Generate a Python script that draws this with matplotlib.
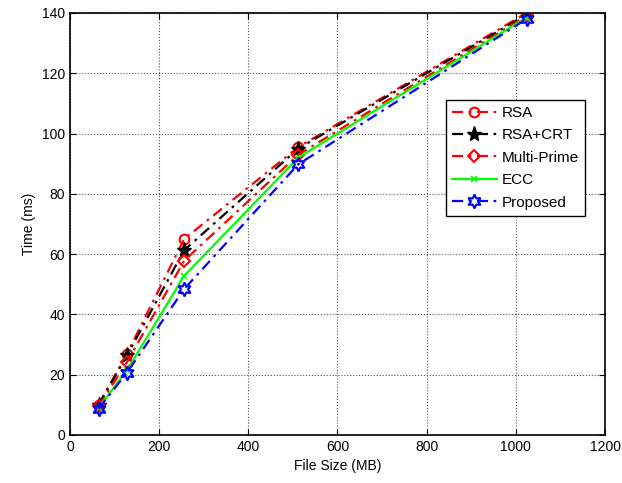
import matplotlib
matplotlib.use("Agg")
import matplotlib.pyplot as plt

file_size = [64, 128, 256, 512, 1024]
rsa = [10, 27, 65, 95.5, 140]
rsa_crt = [10, 26.4, 61.3, 95, 139.5]
multi_prime = [9.5, 24.2, 57.8, 93, 139]
ecc = [9, 21.5, 52.8, 92, 138.5]
proposed = [8.7, 20.7, 48.4, 89.8, 138]

x_ticks = [0, 200, 400, 600, 800, 1000, 1200]
y_ticks = [0, 20, 40, 60, 80, 100, 120, 140]

plt.rcParams['font.family'] = ['Liberation Sans', 'DejaVu Sans']
fig = plt.figure(figsize=(6.22, 4.83), dpi=100)
ax = fig.add_axes([0.1125, 0.0994, 0.8602, 0.8737])

dashdot = (0, (5, 2.5, 1.2, 2.5))
ax.plot(file_size, rsa, color='red', linestyle=dashdot, marker='o', markersize=7,
        markerfacecolor='none', markeredgewidth=1.5, linewidth=1.6, label='RSA')
ax.plot(file_size, rsa_crt, color='black', linestyle=dashdot, marker='*', markersize=11,
        linewidth=1.6, label='RSA+CRT')
ax.plot(file_size, multi_prime, color='red', linestyle=dashdot, marker='D', markersize=6,
        markerfacecolor='none', markeredgewidth=1.5, linewidth=1.6, label='Multi-Prime')
ax.plot(file_size, ecc, color='#00ff00', linestyle='-', marker='x', markersize=4,
        markeredgewidth=1.2, linewidth=1.6, label='ECC')
ax.plot(file_size, proposed, color='blue', linestyle=dashdot, marker=(6, 1, 0), markersize=10,
        markerfacecolor='none', markeredgewidth=1.5, linewidth=1.6, label='Proposed')

ax.set_xlim(0, 1200)
ax.set_ylim(0, 140)
ax.set_xticks(x_ticks)
ax.set_yticks(y_ticks)
ax.tick_params(direction='in', labelsize=10, length=4, top=True, right=True)
ax.grid(True, color='#555555', linestyle=':', linewidth=0.8)
for s in ax.spines.values():
    s.set_linewidth(1.2)
ax.set_xlabel('File Size (MB)', fontsize=10)
ax.set_ylabel('Time (ms)', fontsize=10)

leg = ax.legend(loc='upper left', bbox_to_anchor=(0.703, 0.794), fancybox=False,
                edgecolor='black', framealpha=1, fontsize=11, handlelength=2.9,
                borderpad=0.4, labelspacing=0.55, handletextpad=0.35,
                borderaxespad=0)
leg.get_frame().set_linewidth(1.0)

fig.savefig('out.png', dpi=100)
